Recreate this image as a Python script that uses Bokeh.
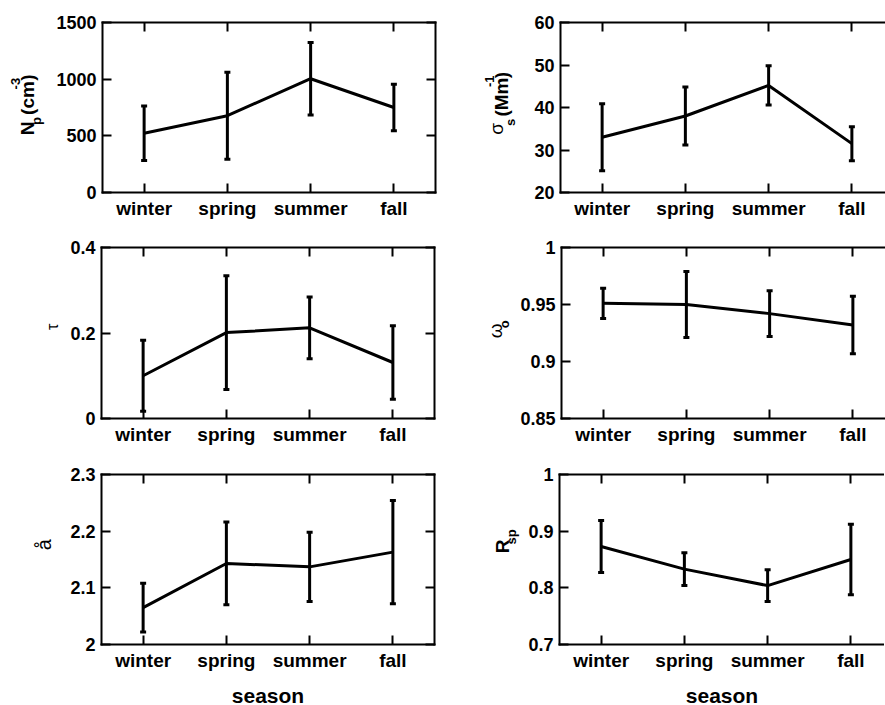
import numpy as np
from math import pi
from bokeh.plotting import figure
from bokeh.layouts import column, row
from bokeh.models import (ColumnDataSource, Whisker, TeeHead, Range1d, FixedTicker,
                          LinearAxis, Label)
from bokeh.embed import file_html
from bokeh.resources import INLINE

# ---------------- data ----------------
seasons = ["winter", "spring", "summer", "fall"]
season_x = [1, 2, 3, 4]

np_mean = [523, 678, 1004, 750]
np_std = [240, 384, 320, 206]

sig_mean = [33.0, 38.0, 45.2, 31.5]
sig_std = [7.9, 6.8, 4.6, 4.0]

tau_mean = [0.100, 0.201, 0.212, 0.131]
tau_std = [0.083, 0.133, 0.072, 0.086]

w0_mean = [0.951, 0.950, 0.942, 0.932]
w0_std = [0.0133, 0.029, 0.020, 0.0253]

ang_mean = [2.065, 2.143, 2.137, 2.163]
ang_std = [0.043, 0.073, 0.061, 0.091]

rsp_mean = [0.873, 0.833, 0.804, 0.850]
rsp_std = [0.046, 0.029, 0.028, 0.062]

np_ticks = [0, 500, 1000, 1500]
np_tick_labels = ["0", "500", "1000", "1500"]
sig_ticks = [20, 30, 40, 50, 60]
sig_tick_labels = ["20", "30", "40", "50", "60"]
tau_ticks = [0, 0.2, 0.4]
tau_tick_labels = ["0", "0.2", "0.4"]
w0_ticks = [0.85, 0.9, 0.95, 1.0]
w0_tick_labels = ["0.85", "0.9", "0.95", "1"]
ang_ticks = [2.0, 2.1, 2.2, 2.3]
ang_tick_labels = ["2", "2.1", "2.2", "2.3"]
rsp_ticks = [0.7, 0.8, 0.9, 1.0]
rsp_tick_labels = ["0.7", "0.8", "0.9", "1"]

# y-axis titles, split into (text, role) pieces
np_label = [("N", "main"), ("p", "sub"), (" (cm", "main"), ("-3", "sup"), (")", "main")]
sig_label = [("σ", "greek"), ("s", "sub"), (" (Mm", "main"), ("-1", "sup"), (")", "main")]
tau_label = [("τ", "tau")]
w0_label = [("ω", "greek0"), ("o", "sub")]
ang_label = [("å", "plain")]
rsp_label = [("R", "main"), ("sp", "sub")]

x_title = "season"

# ---------------- styling / layout ----------------
FONT = "Liberation Sans"
ROLES = {            # font px, weight, baseline shift (px, + = lower)
    "main": (19, "bold", 0),
    "sub": (13, "bold", 9),
    "sup": (13, "bold", -12),
    "greek": (19, "normal", -5),
    "greek0": (19, "normal", 0),
    "tau": (16, "normal", 0),
    "plain": (20, "normal", 0),
}
EM = {"N": .722, "p": .611, " ": .278, "(": .333, ")": .333, "c": .556, "m": .889,
      "-": .333, "3": .556, "1": .556, "M": .833, "s": .556, "R": .722, "o": .611,
      "σ": .60, "ω": .70, "τ": .44, "å": .556}

# per row: (label strip width, panel border left) for left / right column
LW = [[53, 77], [60, 77], [53, 82]]
BL = [[48, 42], [41, 42], [48, 37]]
FW = [333, 325]        # frame widths
FH = [170, 171, 170]   # frame heights
BR = [6, 0]
BT = [22, 22, 22]
BB = [33, 34, 60]


def style_axis(ax, labels=True):
    ax.axis_line_width = 2
    ax.axis_line_color = "black"
    ax.axis_line_cap = "square"
    ax.major_tick_line_width = 2
    ax.major_tick_line_color = "black"
    ax.major_tick_in = 9
    ax.major_tick_out = 0
    ax.minor_tick_line_color = None
    if labels:
        ax.major_label_text_font = FONT
        ax.major_label_text_font_style = "bold"
        ax.major_label_text_color = "black"
    else:
        ax.major_label_text_font_size = "0px"
        ax.major_label_standoff = 0


def text_width(txt, size):
    return sum(EM.get(ch, 0.6) for ch in txt) * size


def label_strip(col, r, pieces, base_x, center_from_top):
    w = LW[r][col]
    h = BT[r] + FH[r] + BB[r]
    f = figure(width=w, height=h, x_range=Range1d(0, w), y_range=Range1d(0, h),
               output_backend="svg", toolbar_location=None,
               x_axis_location=None, y_axis_location=None, min_border=0)
    f.outline_line_color = None
    f.grid.visible = False
    f.background_fill_color = "white"
    f.border_fill_color = "white"
    widths = [text_width(txt, ROLES[role][0]) for txt, role in pieces]
    total = sum(widths)
    y = h - (center_from_top + total / 2.0)
    for (txt, role), wd in zip(pieces, widths):
        size, weight, shift = ROLES[role]
        shown = txt.lstrip(" ")
        lead = text_width(txt[:len(txt) - len(shown)], size)
        f.add_layout(Label(x=base_x + shift, y=y + lead, text=shown, angle=pi / 2,
                           text_align="left", text_baseline="alphabetic",
                           text_font=FONT, text_font_size=f"{size}px",
                           text_font_style=weight, text_color="black"))
        y += wd
    return f


def make_panel(mean, std, yr, ticks, tick_labels, col, r):
    fw, fh = FW[col], FH[r]
    p = figure(frame_width=fw, frame_height=fh,
               x_range=Range1d(0.5, 0.5 + 4.0 * fw / FW[0]), y_range=Range1d(*yr),
               output_backend="svg", toolbar_location=None,
               x_axis_location=None, y_axis_location=None,
               min_border_left=BL[r][col], min_border_right=BR[col],
               min_border_top=BT[r], min_border_bottom=BB[r])
    p.outline_line_color = None
    p.background_fill_color = "white"
    p.border_fill_color = "white"
    p.grid.visible = False

    left = LinearAxis(ticker=FixedTicker(ticks=ticks),
                      major_label_overrides=dict(zip(ticks, tick_labels)))
    style_axis(left)
    left.major_label_text_font_size = "18px"
    left.major_label_standoff = 6
    p.add_layout(left, "left")

    below = LinearAxis(ticker=FixedTicker(ticks=season_x),
                       major_label_overrides=dict(zip(season_x, seasons)))
    style_axis(below)
    below.major_label_text_font_size = "19px"
    below.major_label_standoff = 5
    if r == 2:
        below.axis_label = x_title
        below.axis_label_text_font = FONT
        below.axis_label_text_font_size = "21px"
        below.axis_label_text_font_style = "bold"
        below.axis_label_text_color = "black"
        below.axis_label_standoff = 10
    p.add_layout(below, "below")

    above = LinearAxis(ticker=FixedTicker(ticks=season_x),
                       major_label_overrides={k: "" for k in season_x})
    style_axis(above, labels=False)
    p.add_layout(above, "above")

    if col == 0:
        right = LinearAxis(ticker=FixedTicker(ticks=ticks),
                           major_label_overrides={k: "" for k in ticks})
        style_axis(right, labels=False)
        p.add_layout(right, "right")

    p.line(season_x, mean, line_width=3, line_color="black", line_join="round")
    src = ColumnDataSource(dict(x=season_x, upper=np.add(mean, std).tolist(),
                                lower=np.subtract(mean, std).tolist()))
    p.add_layout(Whisker(source=src, base="x", upper="upper", lower="lower",
                         dimension="height", line_width=3, line_color="black",
                         upper_head=TeeHead(size=6, line_width=3, line_color="black"),
                         lower_head=TeeHead(size=6, line_width=3, line_color="black")))
    return p


p1 = make_panel(np_mean, np_std, (0, 1500), np_ticks, np_tick_labels, 0, 0)
p2 = make_panel(sig_mean, sig_std, (20, 60), sig_ticks, sig_tick_labels, 1, 0)
p3 = make_panel(tau_mean, tau_std, (0, 0.4), tau_ticks, tau_tick_labels, 0, 1)
p4 = make_panel(w0_mean, w0_std, (0.85, 1.0), w0_ticks, w0_tick_labels, 1, 1)
p5 = make_panel(ang_mean, ang_std, (2.0, 2.3), ang_ticks, ang_tick_labels, 0, 2)
p6 = make_panel(rsp_mean, rsp_std, (0.7, 1.0), rsp_ticks, rsp_tick_labels, 1, 2)

l1 = label_strip(0, 0, np_label, 27, 110)
l2 = label_strip(1, 0, sig_label, 60, 108)
l3 = label_strip(0, 1, tau_label, 52, 106)
l4 = label_strip(1, 1, w0_label, 55, 110)
l5 = label_strip(0, 2, ang_label, 43, 110)
l6 = label_strip(1, 2, rsp_label, 62, 106)

layout = column(row(l1, p1, l2, p2, spacing=0),
                row(l3, p3, l4, p4, spacing=0),
                row(l5, p5, l6, p6, spacing=0),
                spacing=0)

open("out.html", "w").write(file_html(layout, INLINE))
